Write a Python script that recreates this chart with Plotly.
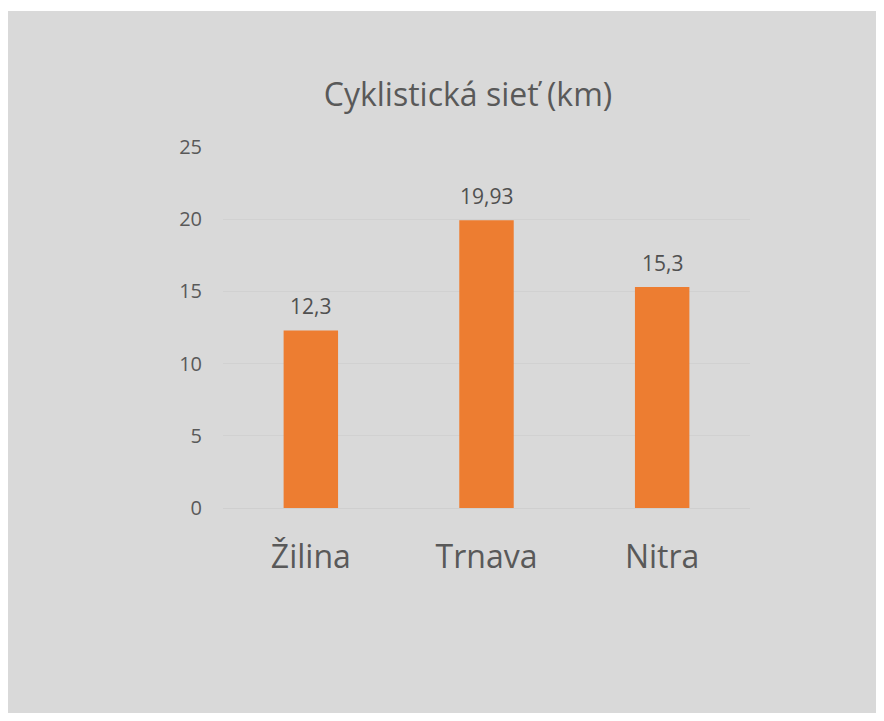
import plotly.graph_objects as go

cities = ["Žilina", "Trnava", "Nitra"]
km = [12.3, 19.93, 15.3]
y_ticks = [0, 5, 10, 15, 20, 25]
title_text = "Cyklistická sieť (km)"

W, H = 884, 721
L, R, T, B = 223, 750, 147, 508
pw, ph = R - L, B - T
FONT = "Open Sans, Noto Sans, sans-serif"

def px(x):
    return (x - L) / pw

def py(y):
    return (B - y) / ph

fig = go.Figure()
fig.add_trace(go.Bar(
    x=cities, y=km,
    marker=dict(color="#ED7D31", line=dict(width=0)),
    width=0.31,
    hoverinfo="skip",
))

for c, v in zip(cities, km):
    fig.add_annotation(
        x=c, y=v, xref="x", yref="y",
        text=str(v).replace(".", ","),
        showarrow=False, yanchor="bottom", yshift=8,
        font=dict(family=FONT, size=21, color="#505050"),
    )

fig.add_shape(
    type="rect", xref="paper", yref="paper",
    x0=px(8), x1=px(876), y0=py(713), y1=py(11),
    fillcolor="#D9D9D9", line=dict(width=0), layer="below",
)

fig.update_layout(
    width=W, height=H,
    margin=dict(l=L, r=W - R, t=T, b=H - B, pad=0),
    paper_bgcolor="white",
    plot_bgcolor="rgba(0,0,0,0)",
    showlegend=False,
    title=dict(
        text=title_text,
        x=px(468), xref="paper", xanchor="center",
        y=1 - 95 / H, yref="container", yanchor="middle",
        font=dict(family=FONT, size=32, color="#595959"),
    ),
    xaxis=dict(
        showgrid=False, showline=True, linecolor="#CFCFCF", linewidth=1,
        ticks="", ticklabelstandoff=21,
        tickfont=dict(family=FONT, size=32, color="#595959"),
        fixedrange=True,
    ),
    yaxis=dict(
        range=[0, 25], tickvals=y_ticks,
        showgrid=True, gridcolor="#D1D1D1", gridwidth=1,
        zeroline=False, showline=False,
        ticks="", ticklabelstandoff=20,
        tickfont=dict(family=FONT, size=20, color="#595959"),
        fixedrange=True,
    ),
)

fig.write_html("out.html", config={"displayModeBar": False},
               post_script="document.body.style.margin='0';")
